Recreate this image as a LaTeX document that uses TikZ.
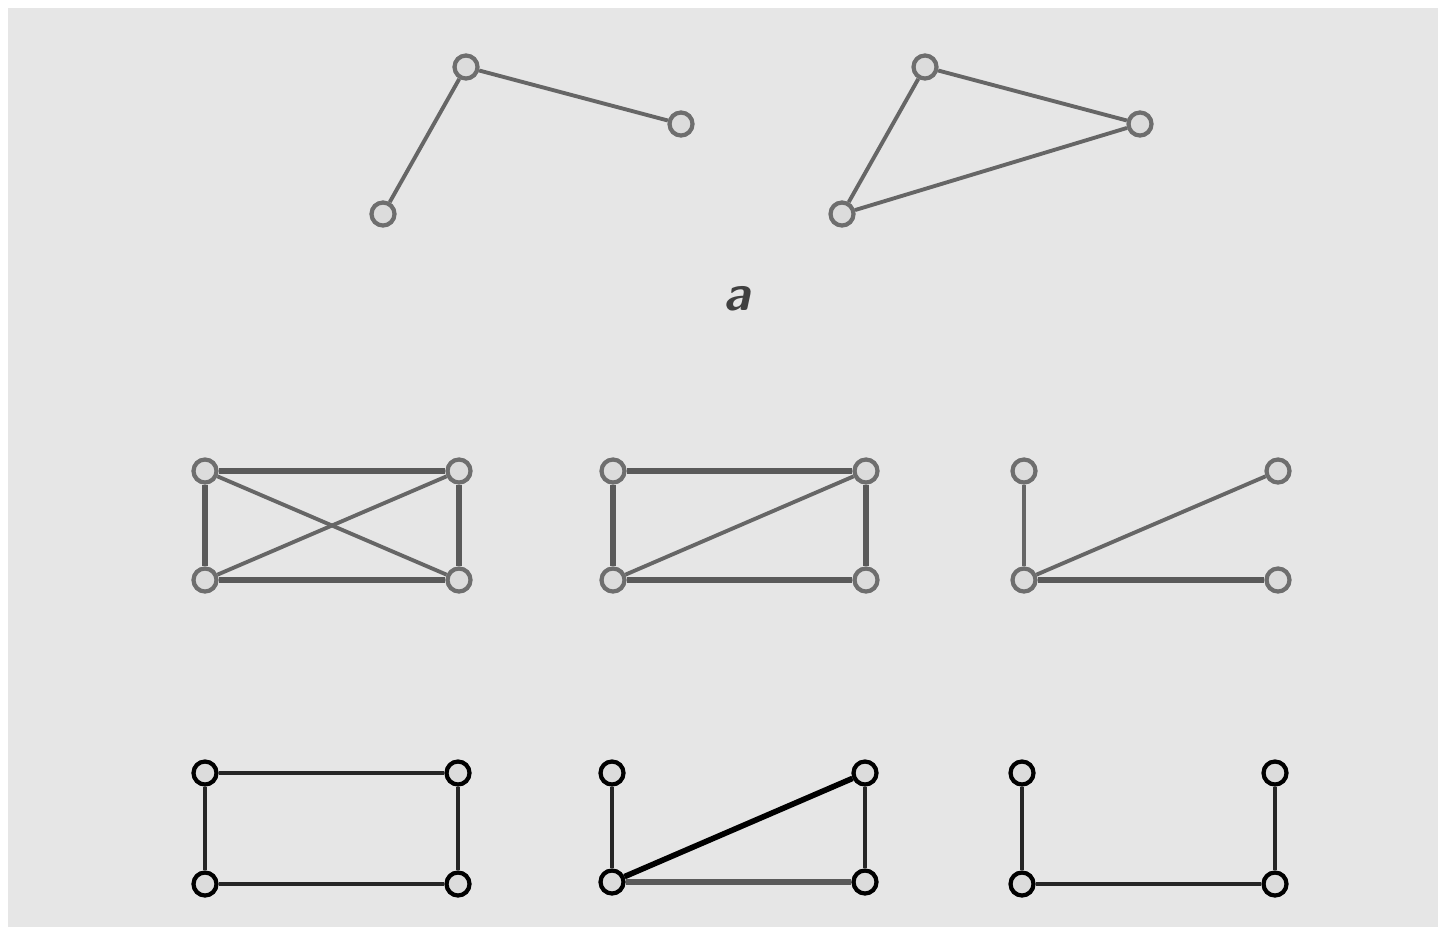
\documentclass[tikz,border=0pt]{standalone}
\usepackage{tikz}
\begin{document}
\begin{tikzpicture}[x=0.01cm,y=-0.01cm,
  vtx/.style={circle,draw=#1,fill=vfill,line width=1.2pt,minimum size=0.23cm,inner sep=0pt},
  vtx/.default=gvert,
  ge/.style={draw=gedge,line width=1.1pt},
  ge2/.style={draw=gedge2,line width=1.5pt},
  be/.style={draw=black!85,line width=1.1pt},
  bethick/.style={draw=black,line width=1.6pt}]
\definecolor{bg}{HTML}{E6E6E6}
\definecolor{vfill}{HTML}{DCDCDC}
\definecolor{gvert}{HTML}{6E6E6E}
\definecolor{gedge}{HTML}{666666}
\definecolor{gedge2}{HTML}{5A5A5A}
\useasboundingbox (0,0) rectangle (1445,933);
\fill[white] (0,0) rectangle (1445,933);
\fill[bg] (8,8) rectangle (1438,927);
% top left
\node[vtx] (a1) at (383,214) {};
\node[vtx] (a2) at (466,67) {};
\node[vtx] (a3) at (681,124) {};
\draw[ge] (a1) -- (a2) -- (a3);
% top right
\node[vtx] (b1) at (842,214) {};
\node[vtx] (b2) at (925,67) {};
\node[vtx] (b3) at (1140,124) {};
\draw[ge] (b1) -- (b2) -- (b3) -- (b1);
\node[font=\sffamily\bfseries\itshape\Large,text=black!75] (lbl) at (737,299) {a};
% row 2 graph 1
\node[vtx] (c1) at (205,471) {};
\node[vtx] (c2) at (459,471) {};
\node[vtx] (c3) at (205,580) {};
\node[vtx] (c4) at (459,580) {};
\draw[ge2] (c1) -- (c2);
\draw[ge2] (c3) -- (c4);
\draw[ge2] (c1) -- (c3);
\draw[ge2] (c2) -- (c4);
\draw[ge] (c1) -- (c4);
\draw[ge] (c3) -- (c2);
% row 2 graph 2
\node[vtx] (d1) at (613,471) {};
\node[vtx] (d2) at (866,471) {};
\node[vtx] (d3) at (613,580) {};
\node[vtx] (d4) at (866,580) {};
\draw[ge2] (d1) -- (d2);
\draw[ge2] (d3) -- (d4);
\draw[ge2] (d1) -- (d3);
\draw[ge2] (d2) -- (d4);
\draw[ge] (d3) -- (d2);
% row 2 graph 3
\node[vtx] (e1) at (1024,471) {};
\node[vtx] (e2) at (1278,471) {};
\node[vtx] (e3) at (1024,580) {};
\node[vtx] (e4) at (1278,580) {};
\draw[ge] (e1) -- (e3);
\draw[ge] (e3) -- (e2);
\draw[ge2] (e3) -- (e4);
% row 3 graph 1
\node[vtx=black] (f1) at (205,773) {};
\node[vtx=black] (f2) at (458,773) {};
\node[vtx=black] (f3) at (205,884) {};
\node[vtx=black] (f4) at (458,884) {};
\draw[be] (f1) -- (f2) -- (f4) -- (f3) -- (f1);
% row 3 graph 2
\node[vtx=black] (g1) at (612,773) {};
\node[vtx=black] (g2) at (865,773) {};
\node[vtx=black] (g3) at (612,882) {};
\node[vtx=black] (g4) at (865,882) {};
\draw[be] (g1) -- (g3);
\draw[bethick] (g3) -- (g2);
\draw[be] (g2) -- (g4);
\draw[ge2] (g3) -- (g4);
% row 3 graph 3
\node[vtx=black] (h1) at (1022,773) {};
\node[vtx=black] (h2) at (1275,773) {};
\node[vtx=black] (h3) at (1022,884) {};
\node[vtx=black] (h4) at (1275,884) {};
\draw[be] (h1) -- (h3);
\draw[be] (h2) -- (h4);
\draw[be] (h3) -- (h4);
\end{tikzpicture}
\end{document}
